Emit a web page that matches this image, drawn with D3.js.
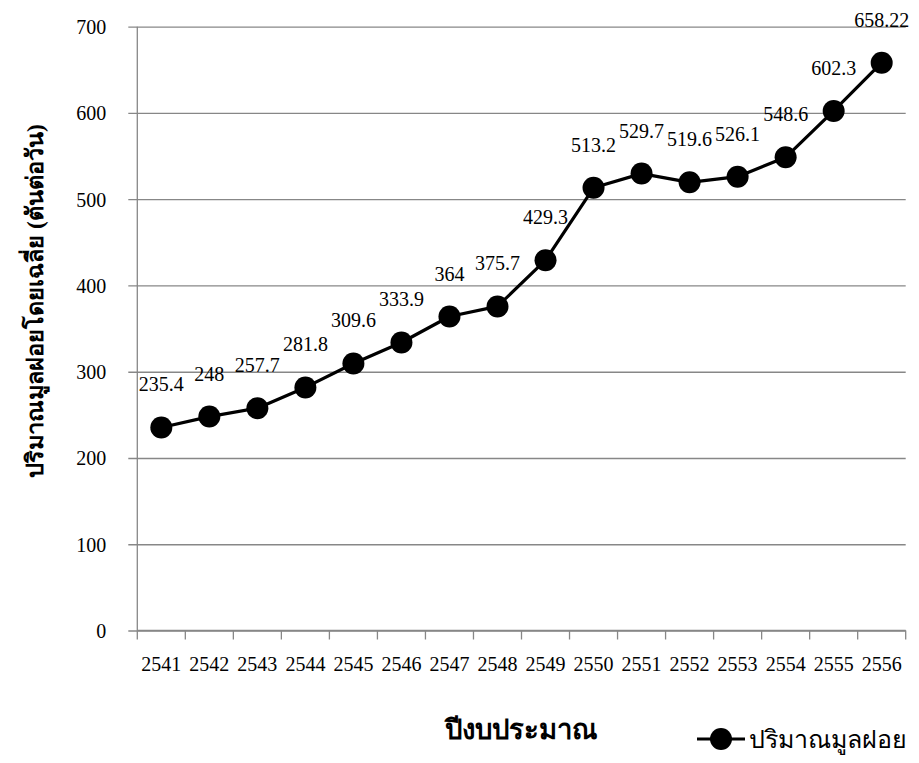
<!DOCTYPE html>
<html>
<head>
<meta charset="utf-8">
<script src="https://cdn.jsdelivr.net/npm/d3@7/dist/d3.min.js"></script>
<style>
  html, body { margin: 0; padding: 0; background: #fff; }
  svg { display: block; }
</style>
</head>
<body>
<svg id="chart" width="919" height="763"></svg>
<script>
// Budget years (Buddhist Era)
const years = ["2541","2542","2543","2544","2545","2546","2547","2548",
               "2549","2550","2551","2552","2553","2554","2555","2556"];
// Average waste amount, tonnes per day
const waste = [235.4, 248, 257.7, 281.8, 309.6, 333.9, 364, 375.7,
               429.3, 513.2, 529.7, 519.6, 526.1, 548.6, 602.3, 658.22];
const valueLabels = ["235.4","248","257.7","281.8","309.6","333.9","364","375.7",
                     "429.3","513.2","529.7","519.6","526.1","548.6","602.3","658.22"];
const yTicks = [0, 100, 200, 300, 400, 500, 600, 700];

const seriesName = "ปริมาณมูลฝอย";
const xTitle = "ปีงบประมาณ";
const yTitle = "ปริมาณมูลฝอยโดยเฉลี่ย (ตันต่อวัน)";

const FONT = "'Liberation Serif', 'Times New Roman', Times, serif";

const svg = d3.select("#chart");
const plotL = 137.3, plotR = 905.7, plotT = 26.7, plotB = 630.5;

const x = d3.scaleBand().domain(years).range([plotL, plotR]);
const y = d3.scaleLinear().domain([0, 700]).range([plotB, plotT]);
const gridColor = "#878787";

// Horizontal gridlines with short outer ticks
const yAxis = d3.axisLeft(y).tickValues(yTicks).tickSize(-(plotR - plotL)).tickSizeOuter(0).tickPadding(31);
const gy = svg.append("g").attr("transform", `translate(${plotL},0)`).call(yAxis);
gy.attr("font-family", FONT).attr("font-size", 20);
gy.select(".domain").remove();
gy.selectAll(".tick line").attr("stroke", gridColor).attr("stroke-width", 1.3)
  .attr("x1", -9);
gy.selectAll(".tick text").attr("fill", "#000").attr("dy", "0.34em");

// Vertical value axis line
svg.append("line").attr("x1", plotL).attr("x2", plotL).attr("y1", plotT).attr("y2", plotB)
  .attr("stroke", gridColor).attr("stroke-width", 1.3);

// Category axis with tick marks at band edges
const gx = svg.append("g").attr("transform", `translate(0,${plotB})`)
  .call(d3.axisBottom(x).tickSize(0).tickPadding(40));
gx.attr("font-family", FONT).attr("font-size", 20);
gx.select(".domain").attr("stroke", gridColor).attr("stroke-width", 1.3)
  .attr("d", `M${plotL},0H${plotR}`);
gx.selectAll(".tick text").attr("fill", "#000").attr("dy", "0");
const edges = years.map(d => x(d)).concat([plotR]);
gx.selectAll(".edge").data(edges).enter().append("line")
  .attr("x1", d => d).attr("x2", d => d).attr("y1", 0).attr("y2", 9)
  .attr("stroke", gridColor).attr("stroke-width", 1.3);

// Series line and markers
const cx = d => x(d) + x.bandwidth() / 2;
const pts = years.map((d, i) => [cx(d), y(waste[i])]);
svg.append("path").attr("d", d3.line()(pts))
  .attr("fill", "none").attr("stroke", "#000").attr("stroke-width", 3.2)
  .attr("stroke-linejoin", "round");
svg.selectAll(".pt").data(pts).enter().append("circle")
  .attr("cx", d => d[0]).attr("cy", d => d[1]).attr("r", 11).attr("fill", "#000");

// Data labels above markers
svg.append("g").attr("font-family", FONT).attr("font-size", 20)
  .selectAll("text").data(years).enter().append("text")
  .attr("x", d => cx(d)).attr("y", (d, i) => y(waste[i]) - 36)
  .attr("text-anchor", "middle")
  .text((d, i) => valueLabels[i]);

// Axis titles
svg.append("text").attr("x", 521).attr("y", 739).attr("text-anchor", "middle")
  .attr("font-family", FONT).attr("font-size", 27.5).attr("font-weight", "bold").text(xTitle);
svg.append("text").attr("transform", "translate(43,301) rotate(-90)")
  .attr("text-anchor", "middle").attr("font-family", FONT)
  .attr("font-size", 23.5).attr("font-weight", "bold")
  .text(yTitle);

// Legend
const lg = svg.append("g").attr("transform", "translate(0,739)");
lg.append("line").attr("x1", 697).attr("x2", 745).attr("y1", 0).attr("y2", 0)
  .attr("stroke", "#000").attr("stroke-width", 3.2);
lg.append("circle").attr("cx", 721).attr("cy", 0).attr("r", 11).attr("fill", "#000");
lg.append("text").attr("x", 749).attr("y", 9).attr("font-family", FONT)
  .attr("font-size", 25).text(seriesName);
</script>
</body>
</html>
